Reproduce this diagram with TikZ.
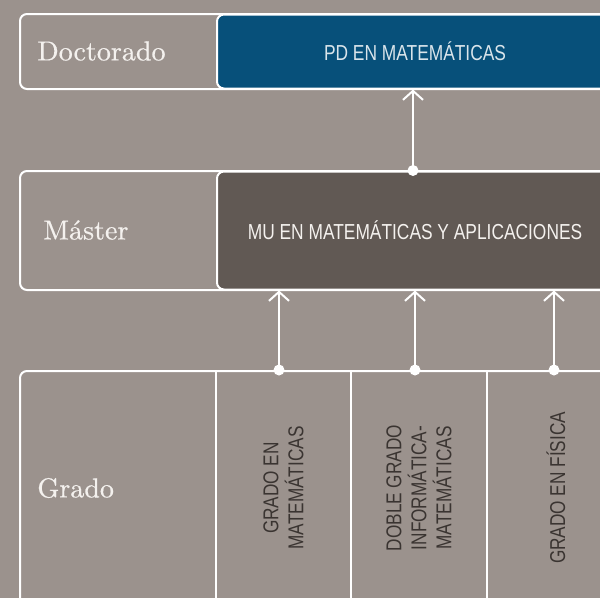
\documentclass[tikz,border=0pt]{standalone}
\usepackage{fontspec}
\usepackage{xcolor}
\usepackage{tikz}
\usetikzlibrary{positioning, arrows.meta}
\newfontfamily\boxfont[FakeStretch=0.8]{Liberation Sans}
\newfontfamily\levelfont[Extension=.otf, FakeStretch=1.02, FakeBold=0.5]{lmroman10-regular}
\definecolor{bggray}{HTML}{9B928D}
\definecolor{pdblue}{HTML}{07507A}
\definecolor{mubrown}{HTML}{615954}
\definecolor{gradotext}{HTML}{3A3431}
\definecolor{labelwhite}{HTML}{F4F1EE}

\begin{document}
\begin{tikzpicture}[x=1pt, y=-1pt, line width=2pt, >={Straight Barb[length=9pt, width=20pt]}]
        \fill[bggray] (0,0) rectangle (600,598);
        \clip (0,0) rectangle (600,598);
        \tikzset{
            rowbox/.style={draw=white, rounded corners=7pt, inner sep=0pt, minimum width=620pt, anchor=north west},
            progbox/.style={draw=white, rounded corners=7pt, inner sep=0pt, minimum width=396pt, anchor=north west, text=labelwhite, font=\boxfont\fontsize{21.7}{24}\selectfont},
            colbox/.style={draw=white, inner sep=0pt, minimum height=234pt, anchor=north west},
            levellabel/.style={anchor=west, text=labelwhite, font=\levelfont\fontsize{27.5}{30}\selectfont},
            gradolabel/.style={rotate=90, align=center, text=gradotext, font=\boxfont\fontsize{21.5}{25}\selectfont},
            dot/.style={circle, fill=white, inner sep=0pt, minimum size=11pt}
        }
        % filas de niveles
        \node[rowbox, minimum height=75pt] (doctorado) at (19,13) {};
        \node[rowbox, minimum height=119pt] (master) at (19,170) {};
        \node[rowbox, minimum height=240pt] (grado) at (19,370) {};
        \node[levellabel] (doclabel) at (33,51) {Doctorado};
        \node[levellabel] (masterlabel) at (39,230) {Máster};
        \node[levellabel] (gradolabel) at (33,488) {Grado};
        % programas
        \node[progbox, fill=pdblue, minimum height=74pt, text=pdblue!15] (pd) at (216,13.5) {PD EN MATEMÁTICAS};
        \node[progbox, fill=mubrown, minimum height=118pt] (mu) at (216,170.5) {MU EN MATEMÁTICAS Y APLICACIONES};
        \node[colbox, minimum width=135pt] (mat) at (215,370) {};
        \node[colbox, minimum width=136pt] (doble) at (350,370) {};
        \node[colbox, minimum width=138pt] (fisica) at (486,370) {};
        \node[gradolabel] (matlabel) at (mat.center) {GRADO EN\\MATEMÁTICAS};
        \node[gradolabel] (doblelabel) at (doble.center) {DOBLE GRADO\\INFORMÁTICA-\\MATEMÁTICAS};
        \node[gradolabel] (fisicalabel) at (fisica.center) {GRADO EN FÍSICA};
        % conexiones
        \node[dot] (matdot) at (279,370) {};
        \node[dot] (dobledot) at (415,370) {};
        \node[dot] (fisicadot) at (554,370) {};
        \node[dot] (mudot) at (413,170.5) {};
        \draw[->, white] (matdot.center) -- (matdot |- mu.south);
        \draw[->, white] (dobledot.center) -- (dobledot |- mu.south);
        \draw[->, white] (fisicadot.center) -- (fisicadot |- mu.south);
        \draw[->, white] (mudot.center) -- (mudot |- pd.south);
\end{tikzpicture}
\end{document}
